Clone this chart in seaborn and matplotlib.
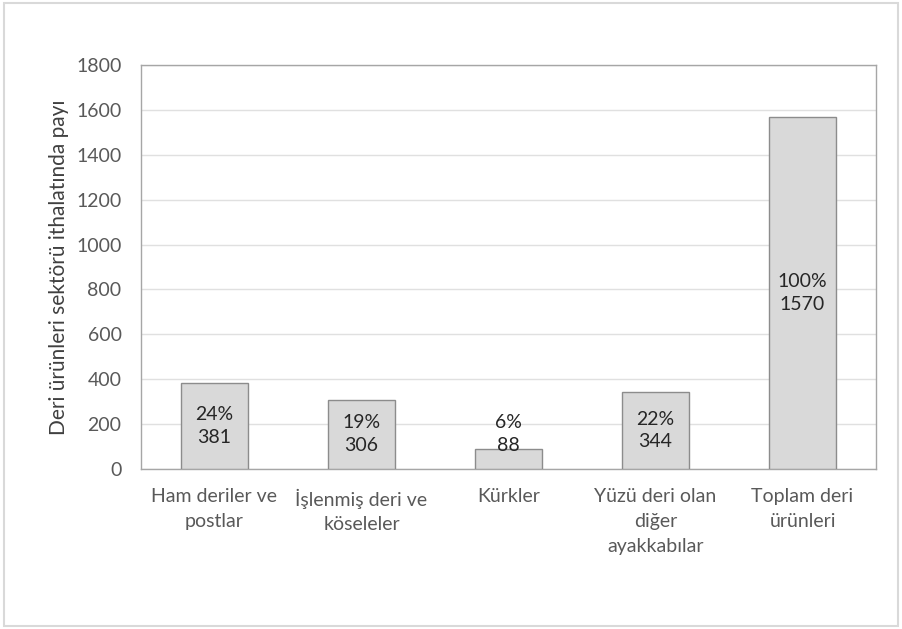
#!/usr/bin/env python3

import matplotlib
matplotlib.use("Agg")
import matplotlib.pyplot as plt
import pandas as pd
import seaborn as sns
from matplotlib.patches import Rectangle

categories = ["Ham deriler ve\npostlar", "İşlenmiş deri ve\nköseleler", "Kürkler",
              "Yüzü deri olan\ndiğer\nayakkabılar", "Toplam deri\nürünleri"]
values = [381, 306, 88, 344, 1570]
shares = ["24%", "19%", "6%", "22%", "100%"]
yticks = [0, 200, 400, 600, 800, 1000, 1200, 1400, 1600, 1800]

df = pd.DataFrame({"cat": categories, "val": values})

sns.set_theme(style="white")
plt.rcParams['font.family'] = ['Lato', 'DejaVu Sans']

fig = plt.figure(figsize=(9.02, 6.29), dpi=100)
ax = fig.add_axes([0.1563, 0.2544, 0.8149, 0.6423])

sns.barplot(data=df, x="cat", y="val", color="#D9D9D9", saturation=1,
            width=0.45, edgecolor="#8C8C8C", linewidth=1, ax=ax, zorder=3)

ax.set_ylim(0, 1800)
ax.set_yticks(yticks)
ax.yaxis.grid(True, color="#E0E0E0", linewidth=1, zorder=0)
ax.set_axisbelow(True)
for s in ax.spines.values():
    s.set_visible(True)
    s.set_color("#A6A6A6")
    s.set_linewidth(1)
ax.tick_params(axis="both", length=0, labelsize=14, colors="#595959")
ax.tick_params(axis="y", pad=14)
ax.tick_params(axis="x", pad=14)
ax.set_xticks(range(len(categories)))
ax.set_xticklabels(categories, linespacing=1.55)
ax.set_xlabel("")
ax.set_ylabel("Deri ürünleri sektörü ithalatında payı", fontsize=15, color="#404040", labelpad=5)

for i, (v, p) in enumerate(zip(values, shares)):
    ax.text(i, max(v / 2, 155), p + "\n" + str(v), ha="center", va="center",
            fontsize=14, color="#262626", linespacing=1.4, zorder=4)

fig.patches.append(Rectangle((0.004, 0.004), 0.992, 0.992, transform=fig.transFigure,
                             fill=False, edgecolor="#D9D9D9", linewidth=1.5))

plt.savefig("out.png", dpi=100)
plt.close()
